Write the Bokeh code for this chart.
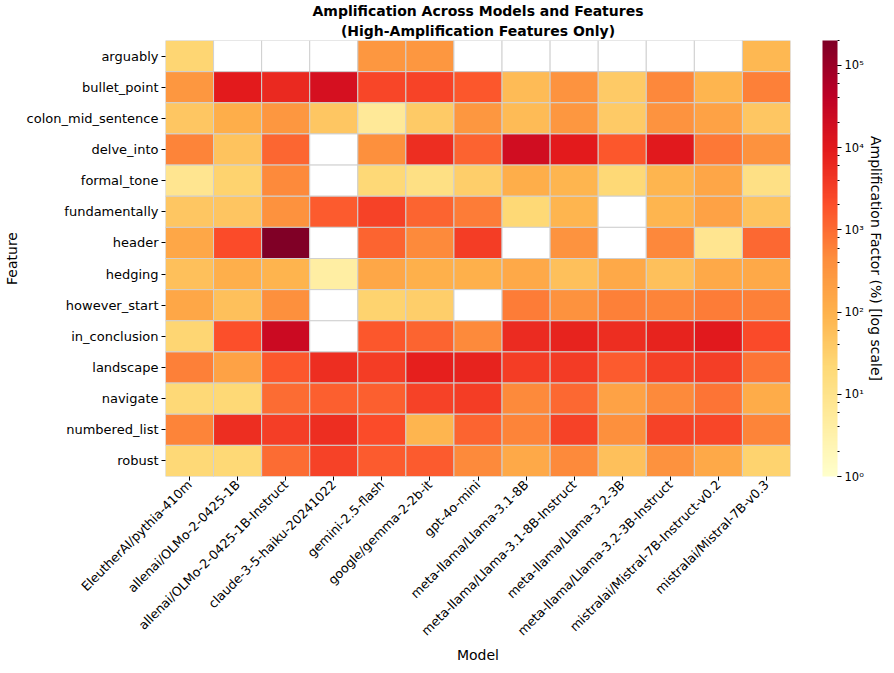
import math
import numpy as np
from bokeh.plotting import figure
from bokeh.models import (ColumnDataSource, LogColorMapper, ColorBar, LogTicker, Title,
                          CustomJSTickFormatter, CategoricalAxis, FactorRange, FixedTicker)
from bokeh.palettes import YlOrRd
from bokeh.embed import file_html
from bokeh.resources import INLINE

nan = float("nan")

models = [
    "EleutherAI/pythia-410m",
    "allenai/OLMo-2-0425-1B",
    "allenai/OLMo-2-0425-1B-Instruct",
    "claude-3-5-haiku-20241022",
    "gemini-2.5-flash",
    "google/gemma-2-2b-it",
    "gpt-4o-mini",
    "meta-llama/Llama-3.1-8B",
    "meta-llama/Llama-3.1-8B-Instruct",
    "meta-llama/Llama-3.2-3B",
    "meta-llama/Llama-3.2-3B-Instruct",
    "mistralai/Mistral-7B-Instruct-v0.2",
    "mistralai/Mistral-7B-v0.3",
]

features = ["arguably", "bullet_point", "colon_mid_sentence", "delve_into", "formal_tone",
            "fundamentally", "header", "hedging", "however_start", "in_conclusion",
            "landscape", "navigate", "numbered_list", "robust"]

# Amplification factor (%) per feature, one value per model (NaN = not available)
arguably = [24, nan, nan, nan, 300, 300, nan, nan, nan, nan, nan, nan, 80]
bullet_point = [300, 9300, 5900, 16000, 2550, 2800, 1640, 68, 336, 39, 508, 85, 610]
colon_mid_sentence = [45, 115, 300, 45, 6.3, 39, 300, 68, 300, 39, 336, 188, 45]
delve_into = [545, 50, 1125, nan, 398, 5200, 1250, 20000, 9250, 1640, 9950, 740, 360]
formal_tone = [8.5, 28, 480, nan, 21, 13, 33, 115, 85, 22, 85, 163, 12]
fundamentally = [45, 47, 360, 1510, 2940, 1190, 675, 22, 85, nan, 85, 188, 50]
header = [151, 2160, 200000, nan, 1190, 480, 3470, nan, 336, nan, 508, 8.5, 1060]
hedging = [56, 109, 91, 4.2, 151, 103, 103, 139, 56, 139, 56, 139, 139]
however_start = [151, 56, 398, nan, 28, 33, nan, 675, 360, 610, 545, 675, 610]
in_conclusion = [24, 2030, 24000, nan, 1640, 1190, 480, 5860, 7200, 5190, 7200, 9950, 2290]
landscape = [610, 188, 1640, 5190, 3340, 7880, 7200, 3340, 3610, 1510, 3070, 3210, 800]
navigate = [21, 22, 995, 1380, 1380, 2940, 3340, 480, 1060, 188, 480, 800, 127]
numbered_list = [545, 5190, 3210, 5190, 2160, 85, 1190, 545, 2940, 398, 2940, 2550, 545]
robust = [21, 22, 995, 2940, 1510, 1510, 480, 139, 480, 56, 360, 139, 28]

rows = [arguably, bullet_point, colon_mid_sentence, delve_into, formal_tone, fundamentally,
        header, hedging, however_start, in_conclusion, landscape, navigate, numbered_list, robust]

xs, ys, vals = [], [], []
for f, row in zip(features, rows):
    for m, v in zip(models, row):
        xs.append(m)
        ys.append(f)
        vals.append(v)
source = ColumnDataSource(data=dict(model=xs, feature=ys, value=vals))

# light -> dark YlOrRd, interpolated to 256 colours
base = list(reversed(YlOrRd[9]))
rgb = np.array([[int(c[i:i + 2], 16) for i in (1, 3, 5)] for c in base], dtype=float)
pos = np.linspace(0, 1, len(base))
palette = []
for t in np.linspace(0, 1, 256):
    r = np.interp(t, pos, rgb[:, 0]); g = np.interp(t, pos, rgb[:, 1]); b = np.interp(t, pos, rgb[:, 2])
    palette.append("#%02x%02x%02x" % (int(round(r)), int(round(g)), int(round(b))))

mapper = LogColorMapper(palette=palette, low=1, high=200000, nan_color="white")

FONT = "DejaVu Sans"
p = figure(width=886, height=665, output_backend="svg", toolbar_location=None,
           x_range=FactorRange(factors=models), y_range=FactorRange(factors=list(reversed(features))),
           title="Amplification Across Models and Features",
           min_border_left=160, min_border_right=0, min_border_top=2, min_border_bottom=0)
p.title.align = "center"
p.title.text_font = FONT
p.title.text_font_size = "14px"
p.title.text_font_style = "bold"
p.title.text_color = "black"
p.title.standoff = 0
p.add_layout(Title(text="(High-Amplification Features Only)", align="center",
                   text_font=FONT, text_font_size="14px", text_font_style="bold",
                   text_color="black", standoff=4), "above")
p.outline_line_color = None
p.grid.grid_line_color = None

p.rect(x="model", y="feature", width=1, height=1, source=source,
       fill_color={"field": "value", "transform": mapper},
       line_color="#d0d0d0", line_width=1)

for ax in (p.xaxis[0], p.yaxis[0]):
    ax.axis_line_color = None
    ax.major_tick_out = 4
    ax.major_tick_in = 0
    ax.major_tick_line_color = "black"
    ax.major_label_text_font = FONT
    ax.major_label_text_font_size = "13px"
    ax.major_label_text_color = "black"
    ax.major_label_standoff = 3
    ax.axis_label_text_font = FONT
    ax.axis_label_text_font_size = "14px"
    ax.axis_label_text_font_style = "normal"
    ax.axis_label_text_color = "black"
    ax.axis_label_standoff = 4

p.xaxis.major_label_orientation = math.pi / 4
p.xaxis.major_label_text_font_size = "12.6px"
p.xaxis.major_label_standoff = 2
p.xaxis.axis_label_standoff = 0
p.xaxis.axis_label = "Model"
p.yaxis.axis_label = "Feature"

fmt = CustomJSTickFormatter(code="""
const sup = {'0':'\u2070','1':'\u00b9','2':'\u00b2','3':'\u00b3','4':'\u2074','5':'\u2075','6':'\u2076','7':'\u2077','8':'\u2078','9':'\u2079','-':'\u207b'};
const e = Math.round(Math.log10(tick));
return '10' + String(e).split('').map(c => sup[c]).join('');
""")

# invisible spacer between heatmap and colour bar
p.extra_y_ranges = {"cb": FactorRange(factors=["cb"])}
spacer = CategoricalAxis(y_range_name="cb", axis_line_color=None, major_tick_line_color=None,
                         major_tick_out=32, major_tick_in=0, major_label_standoff=0,
                         major_label_text_font_size="1px", major_label_text_color=None)
p.add_layout(spacer, "right")

cb = ColorBar(color_mapper=mapper, ticker=LogTicker(), formatter=fmt, width=15,
              padding=0, margin=0, bar_line_color=None, label_standoff=3,
              major_tick_line_color="black", major_tick_out=4, major_tick_in=0,
              minor_tick_line_color="black", minor_tick_out=2, minor_tick_in=0,
              major_label_text_font=FONT, major_label_text_font_size="11.5px",
              major_label_text_color="black")
p.add_layout(cb, "right")

lab = CategoricalAxis(y_range_name="cb", ticker=FixedTicker(ticks=[]),
                      axis_label="Amplification Factor (%) [log scale]",
                      axis_line_color=None, major_tick_line_color=None, minor_tick_line_color=None,
                      major_tick_out=0, major_label_standoff=0, axis_label_standoff=1)
lab.axis_label_text_font = FONT
lab.axis_label_text_font_size = "14px"
lab.axis_label_text_font_style = "normal"
lab.axis_label_text_color = "black"
p.add_layout(lab, "right")

open("out.html", "w").write(file_html(p, INLINE))
